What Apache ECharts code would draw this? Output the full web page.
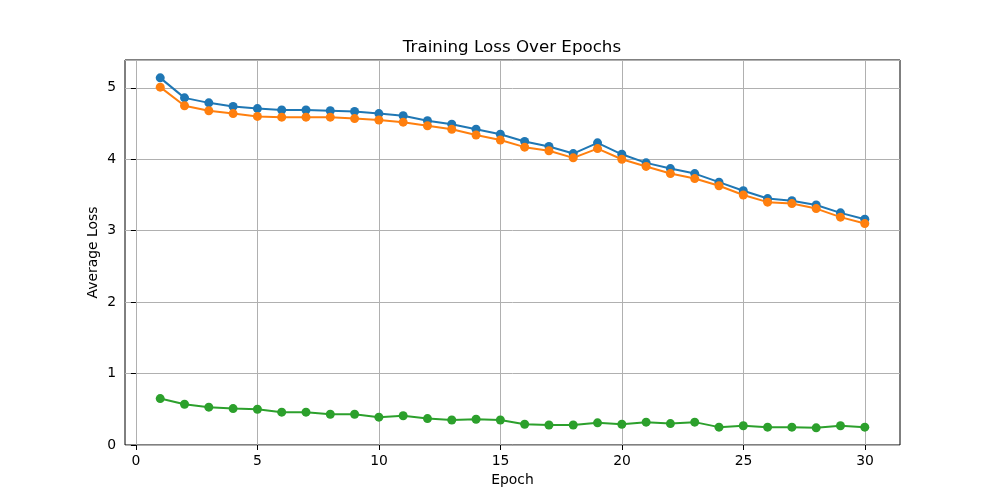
<!DOCTYPE html>
<html>
<head>
<meta charset="utf-8">
<script src="https://cdn.jsdelivr.net/npm/echarts@6/dist/echarts.min.js"></script>
<style>
  html, body { margin: 0; padding: 0; background: #fff; }
  #main_chart { width: 1000px; height: 500px; }
</style>
</head>
<body>
<div id="main_chart"></div>
<script>
var epochs = [];
for (var i = 1; i <= 30; i++) epochs.push(i);

var totalLoss = [5.14, 4.86, 4.79, 4.74, 4.71, 4.69, 4.69, 4.68, 4.67, 4.64,
                 4.61, 4.54, 4.49, 4.42, 4.35, 4.25, 4.18, 4.08, 4.23, 4.07,
                 3.95, 3.87, 3.80, 3.68, 3.56, 3.45, 3.42, 3.36, 3.25, 3.16];
var lossA = [5.01, 4.75, 4.68, 4.64, 4.60, 4.59, 4.59, 4.59, 4.57, 4.55,
             4.52, 4.47, 4.42, 4.34, 4.27, 4.17, 4.12, 4.02, 4.15, 4.00,
             3.90, 3.80, 3.73, 3.63, 3.50, 3.40, 3.38, 3.31, 3.19, 3.10];
var lossB = [0.65, 0.57, 0.53, 0.51, 0.50, 0.46, 0.46, 0.43, 0.43, 0.39,
             0.41, 0.37, 0.35, 0.36, 0.35, 0.29, 0.28, 0.28, 0.31, 0.29,
             0.32, 0.30, 0.32, 0.25, 0.27, 0.25, 0.25, 0.24, 0.27, 0.25];

var colors = ['#1f77b4', '#ff7f0e', '#2ca02c'];
var font = 'DejaVu Sans';

function pairs(ys) {
    return ys.map(function (y, i) { return [epochs[i], y]; });
}

function lineSeries(name, ys, color) {
    return {
        name: name,
        type: 'line',
        xAxisIndex: 0,
        yAxisIndex: 0,
        data: pairs(ys),
        symbol: 'circle',
        symbolSize: 9,
        showSymbol: true,
        itemStyle: { color: color },
        lineStyle: { color: color, width: 2 },
        animation: false
    };
}

var chart = echarts.init(document.getElementById('main_chart'));
chart.setOption({
    backgroundColor: '#fff',
    title: {
        text: 'Training Loss Over Epochs',
        left: 507,
        top: 34,
        textAlign: 'center',
        textStyle: { fontFamily: font, fontSize: 16.7, fontWeight: 'normal', color: '#000' }
    },
    grid: [
        { left: 125, right: 100, top: 60, bottom: 55, show: true, borderColor: '#000', borderWidth: 1, backgroundColor: 'transparent' },
        // tick grid: spans exactly epoch 0..30
        { left: 136, right: 135, top: 60, bottom: 55 }
    ],
    xAxis: [
        {
            type: 'value', gridIndex: 0, min: -0.45, max: 31.45,
            axisLine: { show: false }, axisTick: { show: false },
            axisLabel: { show: false }, splitLine: { show: false },
            name: 'Epoch', nameLocation: 'middle', nameGap: 28,
            nameMoveOverlap: false,
            nameTextStyle: { fontFamily: font, fontSize: 13.9, color: '#000' }
        },
        {
            type: 'value', gridIndex: 1, min: 0, max: 30, interval: 5,
            axisLine: { show: false },
            axisTick: { show: true, inside: false, length: 5, lineStyle: { color: '#000' } },
            axisLabel: { margin: 9, fontFamily: font, fontSize: 13.9, color: '#000' },
            splitLine: { show: true, lineStyle: { color: '#b0b0b0', width: 1 } }
        }
    ],
    yAxis: [
        {
            type: 'value', gridIndex: 0, min: 0, max: 5.39, interval: 1,
            axisLine: { show: false },
            axisTick: { show: true, inside: false, length: 5, lineStyle: { color: '#000' } },
            axisLabel: {
                margin: 9, fontFamily: font, fontSize: 13.9, color: '#000',
                showMaxLabel: false
            },
            splitLine: { show: true, lineStyle: { color: '#b0b0b0', width: 1 } },
            name: 'Average Loss', nameLocation: 'middle', nameGap: 25,
            nameMoveOverlap: false,
            nameTextStyle: { fontFamily: font, fontSize: 13.9, color: '#000' }
        },
        {
            type: 'value', gridIndex: 1, min: 0, max: 5.39, show: false
        }
    ],
    series: [
        lineSeries('Total Loss', totalLoss, colors[0]),
        lineSeries('Loss A', lossA, colors[1]),
        lineSeries('Loss B', lossB, colors[2])
    ]
});
</script>
</body>
</html>
